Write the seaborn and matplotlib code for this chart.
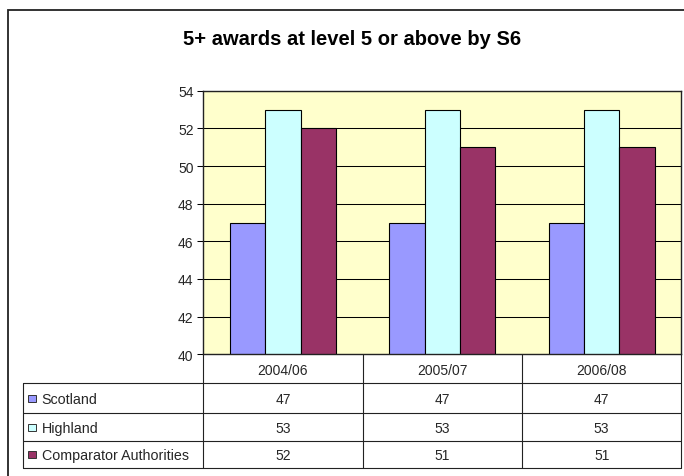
import matplotlib
matplotlib.use("Agg")
import matplotlib.pyplot as plt
import matplotlib.transforms as mtransforms
from matplotlib.lines import Line2D
from matplotlib.patches import Rectangle
import seaborn as sns
import pandas as pd

# ---- data ----
title = "5+ awards at level 5 or above by S6"
periods = ["2004/06", "2005/07", "2006/08"]
series_names = ["Scotland", "Highland", "Comparator Authorities"]
scotland = [47, 47, 47]
highland = [53, 53, 53]
comparator = [52, 51, 51]
colors = ["#9999FF", "#CCFFFF", "#993366"]
y_ticks = [40, 42, 44, 46, 48, 50, 52, 54]

sns.set_style("white")
plt.rcParams["font.family"] = ["Liberation Sans", "DejaVu Sans"]

W, H = 684, 477
fig = plt.figure(figsize=(W / 100, H / 100), dpi=100)
fig.patch.set_facecolor("white")


def fx(px):
    return px / W


def fy(py):
    return 1 - py / H


L, R, T, B = 203.3, 681.3, 91.7, 355.3
ax = fig.add_axes([fx(L), fy(B), fx(R) - fx(L), fy(T) - fy(B)])

values = [scotland, highland, comparator]
rows = []
for name, vals in zip(series_names, values):
    for p, v in zip(periods, vals):
        rows.append({"period": p, "series": name, "value": v})
df = pd.DataFrame(rows)

sns.barplot(data=df, x="period", y="value", hue="series", order=periods,
            hue_order=series_names, palette=colors, saturation=1,
            width=3 / 4.5, edgecolor="black", linewidth=0.8, ax=ax,
            legend=False)

ax.set_ylim(y_ticks[0], y_ticks[-1])
ax.set_xlim(-0.5, len(periods) - 0.5)
ax.set_yticks(y_ticks)
ax.set_facecolor("#FFFFCC")
ax.yaxis.grid(True, color="black", lw=0.75)
ax.xaxis.grid(False)
ax.set_axisbelow(True)
ax.set_xlabel("")
ax.set_ylabel("")
ax.set_xticks(range(len(periods)))
ax.set_xticklabels([])
ax.tick_params(axis="x", length=0)
ax.tick_params(axis="y", direction="out", length=4, width=0.75,
               color="black", labelsize=10, pad=3, left=True)
for s in ax.spines.values():
    s.set_color("#222222")
    s.set_linewidth(1.0)

# ---- title ----
fig.text(fx(352), fy(45), title, ha="center", va="baseline",
         fontsize=14.5, fontweight="bold", color="black")

# ---- outer border ----
fig.add_artist(Rectangle((fx(8), fy(490)), fx(700) - fx(8), fy(11) - fy(490),
                         transform=fig.transFigure, fill=False,
                         edgecolor="#222222", lw=1.3))

# ---- data table ----
blend = mtransforms.blended_transform_factory(ax.transData, fig.transFigure)
tab_left = 23
header_bottom = 384.3
row_lines = [384.3, 414.0, 442.3, 468.5]
line_kw = dict(color="#222222", lw=0.8)

# horizontal lines
for yy in row_lines:
    fig.add_artist(Line2D([fx(tab_left), fx(R)], [fy(yy), fy(yy)],
                          transform=fig.transFigure, **line_kw))
# left vertical of label column
fig.add_artist(Line2D([fx(tab_left), fx(tab_left)],
                      [fy(row_lines[0]), fy(row_lines[-1])],
                      transform=fig.transFigure, **line_kw))
# category boundary verticals
for i in range(len(periods) + 1):
    xb = i - 0.5
    fig.add_artist(Line2D([xb, xb], [fy(B), fy(row_lines[-1])],
                          transform=blend, **line_kw))

# header labels
hdr_c = (B + header_bottom) / 2
for i, p in enumerate(periods):
    fig.text(i, fy(hdr_c + 4.8), p, transform=blend, ha="center",
             va="baseline", fontsize=10)

# rows
for r, (name, vals, col) in enumerate(zip(series_names, values, colors)):
    yc = (row_lines[r] + row_lines[r + 1]) / 2
    fig.add_artist(Rectangle((fx(28.3), fy(yc + 3.8)), fx(7.4), fy(0) - fy(7.4),
                             transform=fig.transFigure, facecolor=col,
                             edgecolor="#333333", lw=0.7))
    fig.text(fx(41.5), fy(yc + 5.0), name, ha="left", va="baseline",
             fontsize=10.3)
    for i, v in enumerate(vals):
        fig.text(i, fy(yc + 5.0), str(v), transform=blend, ha="center",
                 va="baseline", fontsize=10)

fig.savefig("out.png", dpi=100)
